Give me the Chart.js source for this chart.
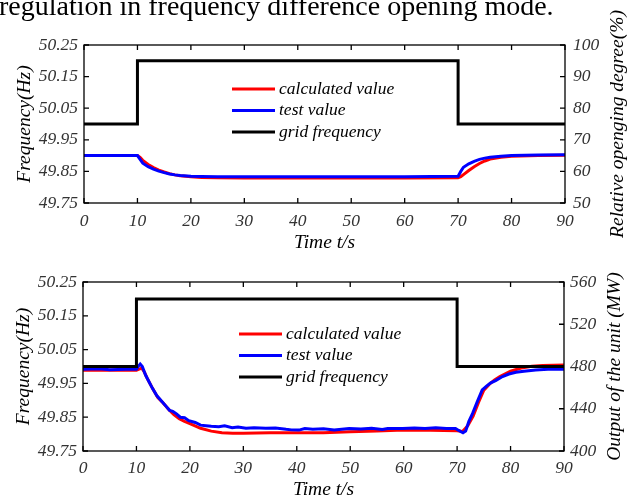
<!DOCTYPE html>
<html>
<head>
<meta charset="utf-8">
<script src="https://cdn.jsdelivr.net/npm/chart.js@4.4.0/dist/chart.umd.min.js"></script>
<style>
  body { margin: 0; width: 632px; height: 499px; overflow: hidden; background: #fff; position: relative; }
  #pie { position: absolute; left: -1px; top: -8px; font: 28px "Liberation Serif", serif; line-height: 28px; white-space: nowrap; color: #000; z-index: 2; }
  .caja { position: absolute; left: 0; width: 632px; }
  canvas { display: block; }
</style>
</head>
<body>
<div class="caja" style="top:0px;height:260px"><canvas id="grafica1" width="632" height="260"></canvas></div>
<div class="caja" style="top:262px;height:245px"><canvas id="grafica2" width="632" height="245"></canvas></div>
<div id="pie">regulation in frequency difference opening mode.</div>
<script>
// Gráfica superior: grado de apertura relativo (%)
var tiempoApertura = [0, 10, 10.5, 11, 12, 13, 14, 15, 16, 17, 18, 20, 22, 25, 30, 40, 50, 60, 70, 70.5, 71, 72, 73, 74, 75, 76, 78, 80, 85, 90];
var aperturaCalculada = [65.0, 65.0, 64.4, 63.5, 62.2, 61.2, 60.4, 59.8, 59.3, 58.9, 58.6, 58.3, 58.1, 58.0, 57.9, 57.9, 57.9, 57.9, 58.0, 58.3, 59.0, 60.3, 61.5, 62.5, 63.3, 63.9, 64.5, 64.8, 65.0, 65.1];
var aperturaPrueba = [65.0, 65.0, 63.8, 62.6, 61.5, 60.7, 60.1, 59.6, 59.2, 58.9, 58.7, 58.5, 58.4, 58.3, 58.3, 58.3, 58.3, 58.3, 58.5, 60.0, 61.3, 62.4, 63.2, 63.8, 64.2, 64.5, 64.8, 65.0, 65.2, 65.3];

// Frecuencia de la red (Hz), la misma en las dos gráficas
var tiempoRed = [0, 10, 10, 70, 70, 90];
var frecuenciaRed = [50.00, 50.00, 50.20, 50.20, 50.00, 50.00];

// Gráfica inferior: potencia de la unidad (MW)
var tiempoPotenciaCalc = [0, 10, 10.5, 11, 11.5, 12, 13, 14, 15, 16, 17, 18, 19, 20, 22, 24, 26, 28, 30, 35, 40, 45, 50, 55, 60, 65, 70, 71, 72, 73, 74, 75, 76, 77, 78, 80, 82, 84, 86, 88, 90];
var potenciaCalculada = [476.5, 476.5, 477.5, 478.5, 474.5, 469, 459.3, 450.5, 445.5, 439.5, 434.5, 430.5, 428, 425.8, 421.5, 418.8, 417.3, 416.7, 416.8, 417.2, 417.2, 417.2, 418.2, 419, 419.8, 419.6, 419.2, 418.5, 424, 433, 446, 457.5, 463, 467.3, 470.5, 475.5, 478.5, 480.2, 481, 481.3, 481.4];
var tiempoPotenciaPrueba = [0, 3, 5, 8, 10, 10.3, 10.7, 11.1, 11.7, 12.3, 13, 13.8, 14.8, 15.6, 16.2, 16.8, 17.5, 18.2, 19, 19.8, 21, 22, 23, 24, 25.4, 26.5, 27.9, 29, 30.5, 32, 34.2, 36, 38, 39, 40.4, 41.5, 43, 45, 47, 49.8, 52, 54, 56, 57, 59.8, 62, 64, 66, 68, 69.7, 70.3, 71.1, 71.6, 72.2, 72.9, 73.8, 74.7, 75.5, 76.3, 77.2, 78.5, 79.7, 81, 82.5, 84.7, 87, 90];
var potenciaPrueba = [477.3, 477.8, 477.0, 477.5, 477.3, 480, 482.3, 480, 471.9, 466, 459.3, 452.5, 446.7, 442, 438.5, 437.5, 435.2, 432, 431.5, 428.7, 427, 424.5, 424, 423.5, 423, 423.8, 422.1, 422.8, 421.5, 422, 421.5, 421.8, 420.5, 420, 419.8, 421.2, 420.5, 421, 419.8, 421.4, 420.8, 421.5, 420.3, 421.3, 421.4, 421.8, 421.3, 422, 421.4, 421.4, 419.5, 417.3, 419, 428, 435.6, 447, 457.8, 461.5, 464.5, 466.6, 470.5, 472.9, 474.5, 475.5, 476.7, 477.5, 477.3];

// Textos
var etiquetasSerie = ['calculated value', 'test value', 'grid frequency'];
var coloresSerie = ['#ff0000', '#0000ff', '#000000'];
var tituloTiempo = 'Time t/s';
var tituloFrecuencia = 'Frequency(Hz)';
var tituloApertura = 'Relative openging degree(%)';
var tituloPotencia = 'Output of the unit (MW)';

var familia = "'Liberation Serif', 'Times New Roman', serif";

// Une los tiempos y los valores en puntos {x, y}
function puntos(xs, ys) {
  return xs.map(function (x, i) { return { x: x, y: ys[i] }; });
}

// Marco, marcas hacia adentro, título derecho y leyenda
var pluginMarco = {
  id: 'marco',
  afterDatasetsDraw: function (chart, args, opts) {
    var ctx = chart.ctx;
    var area = chart.chartArea;
    var largo = 5;
    ctx.save();
    ctx.strokeStyle = '#000';
    ctx.lineWidth = 1.3;
    ctx.strokeRect(area.left, area.top, area.right - area.left, area.bottom - area.top);

    ctx.beginPath();
    chart.scales.x.ticks.forEach(function (t) {
      var px = chart.scales.x.getPixelForValue(t.value);
      ctx.moveTo(px, area.bottom); ctx.lineTo(px, area.bottom - largo);
      ctx.moveTo(px, area.top); ctx.lineTo(px, area.top + largo);
    });
    chart.scales.y.ticks.forEach(function (t) {
      var py = chart.scales.y.getPixelForValue(t.value);
      ctx.moveTo(area.left, py); ctx.lineTo(area.left + largo, py);
    });
    chart.scales.y1.ticks.forEach(function (t) {
      var py = chart.scales.y1.getPixelForValue(t.value);
      ctx.moveTo(area.right, py); ctx.lineTo(area.right - largo, py);
    });
    ctx.stroke();

    // leyenda dentro del área
    ctx.font = 'italic 17.5px ' + familia;
    ctx.textAlign = 'left';
    ctx.textBaseline = 'middle';
    etiquetasSerie.forEach(function (texto, i) {
      var x0 = area.left + opts.leyendaX;
      var y0 = area.top + opts.leyendaY + i * 21.5;
      ctx.strokeStyle = coloresSerie[i];
      ctx.lineWidth = 3;
      ctx.beginPath();
      ctx.moveTo(x0, y0); ctx.lineTo(x0 + 43, y0);
      ctx.stroke();
      ctx.fillStyle = '#000';
      ctx.fillText(texto, x0 + 47, y0);
    });

    // título del eje derecho, se lee de abajo hacia arriba
    ctx.translate(opts.tituloX, (area.top + area.bottom) / 2);
    ctx.rotate(-Math.PI / 2);
    ctx.font = 'italic 19.5px ' + familia;
    ctx.textAlign = 'center';
    ctx.fillStyle = '#000';
    ctx.fillText(opts.titulo, 0, 0);
    ctx.restore();
  }
};

function crearGrafica(idCanvas, datos) {
  var fuenteTicks = { family: familia, style: 'italic', size: 17.5 };
  var fuenteTitulo = { family: familia, style: 'italic', size: 19.5 };
  return new Chart(document.getElementById(idCanvas), {
    type: 'line',
    data: {
      datasets: [
        { label: etiquetasSerie[0], data: datos.calculada, yAxisID: 'y1', borderColor: coloresSerie[0], borderWidth: 3, pointRadius: 0, order: 2 },
        { label: etiquetasSerie[1], data: datos.prueba, yAxisID: 'y1', borderColor: coloresSerie[1], borderWidth: 3, pointRadius: 0, order: 1 },
        { label: etiquetasSerie[2], data: puntos(tiempoRed, frecuenciaRed), yAxisID: 'y', borderColor: coloresSerie[2], borderWidth: 3, pointRadius: 0, order: 0 }
      ]
    },
    options: {
      responsive: false,
      animation: false,
      layout: { padding: { top: datos.arriba, left: 0, right: 0, bottom: 0 } },
      plugins: {
        legend: { display: false },
        tooltip: { enabled: false },
        marco: { leyendaX: datos.leyendaX, leyendaY: datos.leyendaY, tituloX: datos.tituloX, titulo: datos.tituloDerecho }
      },
      scales: {
        x: {
          type: 'linear', min: 0, max: 90,
          ticks: { stepSize: 10, color: '#333', font: fuenteTicks, padding: datos.padX, maxRotation: 0 },
          grid: { display: false, drawTicks: false },
          border: { display: false },
          title: { display: true, text: tituloTiempo, color: '#000', font: fuenteTitulo, padding: { top: 0, bottom: 5 } },
          afterFit: function (escala) { escala.height = datos.altoX; }
        },
        y: {
          position: 'left', min: 49.75, max: 50.25,
          ticks: { stepSize: 0.1, color: '#333', font: fuenteTicks, padding: 6, callback: function (v) { return v.toFixed(2); } },
          grid: { display: false, drawTicks: false },
          border: { display: false },
          title: { display: true, text: tituloFrecuencia, color: '#000', font: fuenteTitulo, padding: { top: datos.padTitulo, bottom: 0 } },
          afterFit: function (escala) { escala.width = datos.anchoIzq; }
        },
        y1: {
          position: 'right', min: datos.minDer, max: datos.maxDer,
          ticks: { stepSize: datos.pasoDer, color: '#333', font: fuenteTicks, padding: datos.padDer },
          grid: { display: false, drawTicks: false },
          border: { display: false },
          afterFit: function (escala) { escala.width = datos.anchoDer; }
        }
      }
    },
    plugins: [pluginMarco]
  });
}

crearGrafica('grafica1', {
  calculada: puntos(tiempoApertura, aperturaCalculada),
  prueba: puntos(tiempoApertura, aperturaPrueba),
  arriba: 45, altoX: 57, padX: 8, anchoIzq: 84, anchoDer: 67, padTitulo: 13, padDer: 8,
  minDer: 50, maxDer: 100, pasoDer: 10,
  leyendaX: 148, leyendaY: 44, tituloX: 618, tituloDerecho: tituloApertura
});

crearGrafica('grafica2', {
  calculada: puntos(tiempoPotenciaCalc, potenciaCalculada),
  prueba: puntos(tiempoPotenciaPrueba, potenciaPrueba),
  arriba: 20, altoX: 56, padX: 6.5, anchoIzq: 83, anchoDer: 68, padTitulo: 12, padDer: 6,
  minDer: 400, maxDer: 560, pasoDer: 40,
  leyendaX: 156, leyendaY: 52, tituloX: 615, tituloDerecho: tituloPotencia
});
</script>
</body>
</html>
